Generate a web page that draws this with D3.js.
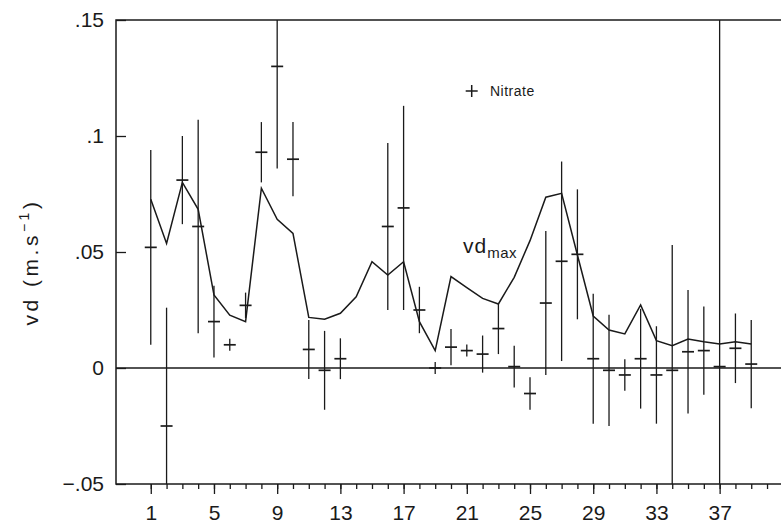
<!DOCTYPE html>
<html>
<head>
<meta charset="utf-8">
<script src="https://cdn.jsdelivr.net/npm/d3@7"></script>
<style>
  body { margin: 0; background: #fff; }
  text { font-family: "Liberation Sans", Arial, sans-serif; fill: #1a1a1a; }
</style>
</head>
<body>
<script>
// Data
const days = [1, 2, 3, 4, 5, 6, 7, 8, 9, 10, 11, 12, 13, 14, 15, 16, 17, 18, 19, 20,
  21, 22, 23, 24, 25, 26, 27, 28, 29, 30, 31, 32, 33, 34, 35, 36, 37, 38, 39];
// nitrate deposition velocity (null = no measurement)
const nitrate = [0.052, -0.025, 0.081, 0.061, 0.020, 0.010, 0.027, 0.093, 0.130, 0.090,
  0.008, -0.001, 0.004, null, null, 0.061, 0.069, 0.025, 0.000, 0.009,
  0.0075, 0.006, 0.017, 0.0006, -0.011, 0.028, 0.046, 0.049, 0.004, -0.001,
  -0.003, 0.004, -0.003, -0.001, 0.007, 0.0075, 0.0006, 0.0085, 0.0017];
// half width of the error bars
const nitrateErr = [0.042, 0.051, 0.019, 0.046, 0.0155, 0, 0.0055, 0.013, 0.044, 0.016,
  0.0127, 0.017, 0.0088, null, null, 0.036, 0.044, 0.010, 0, 0.0078,
  0, 0.008, 0.011, 0.009, 0.007, 0.031, 0.043, 0.028, 0.028, 0.024,
  0.0068, 0.0215, 0.021, 0.054, 0.0266, 0.019, 0.16, 0.015, 0.019];
const vdMax = [0.0727, 0.0537, 0.080, 0.0684, 0.0315, 0.0228, 0.0200, 0.0775, 0.0641, 0.0580,
  0.0218, 0.0210, 0.0236, 0.0307, 0.0458, 0.0401, 0.0458, 0.0200, 0.0075, 0.0394,
  0.0346, 0.0300, 0.0276, 0.0391, 0.0549, 0.0736, 0.0753, 0.0487, 0.0224, 0.0164,
  0.0147, 0.0272, 0.0118, 0.0096, 0.0125, 0.0113, 0.0103, 0.0113, 0.0103];
const xTickValues = [1, 5, 9, 13, 17, 21, 25, 29, 33, 37];
const yTickValues = [-0.05, 0, 0.05, 0.1, 0.15];
const yTickLabels = ["\u2212.05", "0", ".05", ".1", ".15"];

const w = 781;
const h = 529;
const ink = "#1a1a1a";

const svg = d3.select("body").append("svg")
  .attr("width", w)
  .attr("height", h);

// Scales
const x = d3.scaleLinear().domain([-1.2, 41.2]).range([116, 786]);
const y = d3.scaleLinear().domain([-0.05, 0.15]).range([484, 20]);

// Frame
svg.append("rect")
  .attr("x", x(-1.2)).attr("y", y(0.15))
  .attr("width", x(41.2) - x(-1.2)).attr("height", y(-0.05) - y(0.15))
  .attr("fill", "none").attr("stroke", ink).attr("stroke-width", 1.5);

// Zero line
svg.append("line")
  .attr("x1", x(-1.2)).attr("x2", x(41.2))
  .attr("y1", y(0)).attr("y2", y(0))
  .attr("stroke", ink).attr("stroke-width", 1.4);

// Bottom axis: minor ticks every day, majors with labels
const minorAxis = d3.axisBottom(x)
  .tickValues(d3.range(1, 41))
  .tickSize(5)
  .tickFormat("");
svg.append("g")
  .attr("transform", "translate(0," + y(-0.05) + ")")
  .call(minorAxis)
  .call(g => g.select(".domain").remove());

const majorAxis = d3.axisBottom(x)
  .tickValues(xTickValues)
  .tickSize(10)
  .tickPadding(11)
  .tickFormat(d3.format("d"));
svg.append("g")
  .attr("transform", "translate(0," + y(-0.05) + ")")
  .call(majorAxis)
  .call(g => g.select(".domain").remove())
  .call(g => g.selectAll("text").attr("font-size", 21).attr("font-family", null).attr("fill", ink));

svg.selectAll(".tick line").attr("stroke", ink).attr("stroke-width", 1.3);

// Left axis: ticks point inwards
const yAxis = d3.axisLeft(y)
  .tickValues(yTickValues)
  .tickSize(-10)
  .tickPadding(12)
  .tickFormat((d, i) => yTickLabels[i]);
svg.append("g")
  .attr("transform", "translate(" + x(-1.2) + ",0)")
  .call(yAxis)
  .call(g => g.select(".domain").remove())
  .call(g => g.selectAll("line").attr("stroke", ink).attr("stroke-width", 1.3))
  .call(g => g.selectAll("text").attr("font-size", 21).attr("font-family", null).attr("fill", ink));

// Y title
const yTitle = svg.append("text")
  .attr("transform", "translate(38,262) rotate(-90)")
  .attr("text-anchor", "middle")
  .attr("font-size", 21)
  .attr("letter-spacing", 3.5);
yTitle.append("tspan").text("vd (m.s");
yTitle.append("tspan").attr("font-size", 14).attr("dy", -9).text("\u22121");
yTitle.append("tspan").attr("dy", 9).text(")");

// vd max line
const line = d3.line()
  .x((d, i) => x(days[i]))
  .y(d => y(d));
svg.append("path")
  .datum(vdMax)
  .attr("d", line)
  .attr("fill", "none")
  .attr("stroke", ink)
  .attr("stroke-width", 1.5)
  .attr("stroke-linejoin", "miter");

const vdLabel = svg.append("text")
  .attr("x", 463).attr("y", 253)
  .attr("font-size", 21)
  .attr("letter-spacing", 1);
vdLabel.append("tspan").text("vd");
vdLabel.append("tspan").attr("font-size", 15).attr("dy", 5).attr("letter-spacing", 0.5).text("max");

// Nitrate points with error bars
const pts = days.map((d, i) => ({ day: d, v: nitrate[i], e: nitrateErr[i] }))
  .filter(p => p.v !== null);
const clampY = v => y(Math.max(-0.05, Math.min(0.15, v)));
const half = 6;

const g = svg.append("g").attr("stroke", ink);
g.selectAll(".err")
  .data(pts)
  .enter()
  .append("line")
  .attr("x1", p => x(p.day)).attr("x2", p => x(p.day))
  .attr("y1", p => Math.min(clampY(p.v + p.e), y(p.v) - half))
  .attr("y2", p => Math.max(clampY(p.v - p.e), y(p.v) + half))
  .attr("stroke-width", 1.3);
g.selectAll(".bar")
  .data(pts)
  .enter()
  .append("line")
  .attr("x1", p => x(p.day) - half).attr("x2", p => x(p.day) + half)
  .attr("y1", p => y(p.v)).attr("y2", p => y(p.v))
  .attr("stroke-width", 1.7);

// Legend
const lx = 471.7, ly = 91;
svg.append("line")
  .attr("x1", lx - 6).attr("x2", lx + 6).attr("y1", ly).attr("y2", ly)
  .attr("stroke", ink).attr("stroke-width", 1.5);
svg.append("line")
  .attr("x1", lx).attr("x2", lx).attr("y1", ly - 6).attr("y2", ly + 6)
  .attr("stroke", ink).attr("stroke-width", 1.5);
svg.append("text")
  .attr("x", 490).attr("y", 96)
  .attr("font-size", 14)
  .attr("letter-spacing", 0.5)
  .text("Nitrate");
</script>
</body>
</html>
